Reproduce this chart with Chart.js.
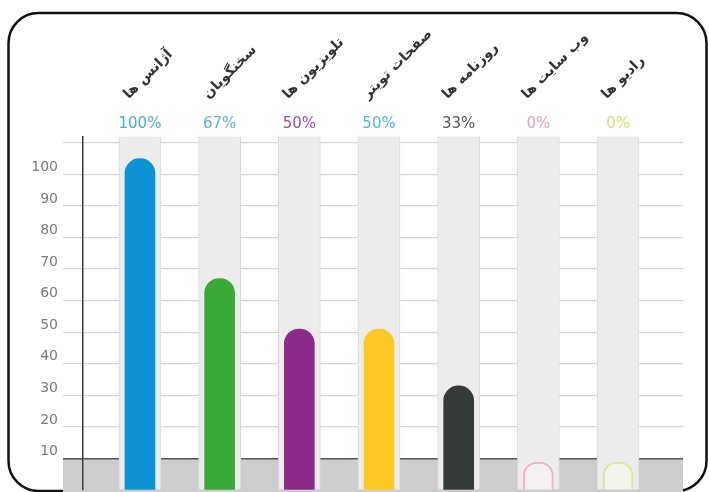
<!DOCTYPE html>
<html lang="fa">
<head>
<meta charset="utf-8">
<title>Sources</title>
<script src="https://cdn.jsdelivr.net/npm/chart.js@4.4.1/dist/chart.umd.min.js"></script>
<style>
  html, body { margin: 0; padding: 0; background: #fff; }
  canvas { display: block; }
</style>
</head>
<body>
<canvas id="chart" width="709" height="492"></canvas>
<script>
// -------------------- Data --------------------
const categories = ["آژانس ها", "سخنگویان", "تلویزیون ها", "صفحات تویتر", "روزنامه ها", "وب سایت ها", "رادیو ها"];
const percentLabels = ["100%", "67%", "50%", "50%", "33%", "0%", "0%"];
// bar heights as read against the left axis
const barValues = [105, 67, 51, 51, 33, 0, 0];
const columnValues = [112, 112, 112, 112, 112, 112, 112];

const barColors = ["#0f93d6", "#3aa935", "#8b2a89", "#fdc824", "#343a38", "#f4eff1", "#f2f3ea"];
const barBorders = ["#0f93d6", "#3aa935", "#8b2a89", "#fdc824", "#343a38", "#f0b2c2", "#dce68c"];
const barBorderWidths = [0, 0, 0, 0, 0, 2, 2];
const labelColors = ["#41aee0", "#5bb3dc", "#a04e9f", "#4fb3e3", "#555555", "#e99db2", "#d3e36c"];

// -------------------- Helpers --------------------
const backdrop = {
  id: "backdrop",
  beforeDraw(chart) {
    const { ctx, chartArea, scales } = chart;
    ctx.save();
    ctx.fillStyle = "#fff";
    ctx.fillRect(0, 0, chart.width, chart.height);

    // rounded frame
    ctx.beginPath();
    ctx.roundRect(8.5, 13, 698, 478, 30);
    ctx.lineWidth = 2.5;
    ctx.strokeStyle = "#111";
    ctx.stroke();

    // grey floor under the 10 line
    const y10 = scales.y.getPixelForValue(10);
    ctx.fillStyle = "#cdcdcd";
    ctx.fillRect(chartArea.left - 20, y10, chartArea.right - chartArea.left + 20, chart.height - y10);
    ctx.restore();
  },
  afterDatasetsDraw(chart) {
    const { ctx, chartArea, scales } = chart;
    ctx.save();
    ctx.font = "15px 'DejaVu Sans'";
    ctx.textAlign = "center";
    ctx.textBaseline = "middle";
    percentLabels.forEach((t, i) => {
      ctx.fillStyle = labelColors[i];
      ctx.fillText(t, scales.x.getPixelForValue(i), chartArea.top - 12);
    });
    ctx.restore();
  }
};

// -------------------- Chart --------------------
new Chart(document.getElementById("chart"), {
  type: "bar",
  data: {
    datasets: [
      {
        data: barValues.map((v, i) => ({ x: i, y: v })),
        backgroundColor: barColors,
        borderColor: barBorders,
        borderWidth: barBorderWidths,
        borderRadius: { topLeft: 15, topRight: 15 },
        borderSkipped: "bottom",
        barThickness: 30,
        minBarLength: 28,
        grouped: false
      },
      {
        data: columnValues.map((v, i) => ({ x: i, y: v })),
        backgroundColor: "#ececec",
        borderColor: "#dadada",
        borderWidth: 1,
        borderSkipped: "bottom",
        barThickness: 42,
        grouped: false
      }
    ]
  },
  options: {
    responsive: false,
    animation: false,
    layout: { padding: { top: 0, right: 26, bottom: 2, left: 0 } },
    plugins: { legend: { display: false }, tooltip: { enabled: false } },
    scales: {
      x: {
        type: "linear",
        position: "top",
        min: -0.715,
        max: 6.815,
        offset: false,
        grid: { display: false, drawTicks: false },
        border: { display: false },
        ticks: {
          stepSize: 1,
          includeBounds: false,
          autoSkip: false,
          minRotation: 45,
          maxRotation: 45,
          padding: 34,
          labelOffset: -2,
          color: "#333",
          font: { family: "DejaVu Sans", size: 14, weight: "bold" },
          callback: v => categories[v] ?? ""
        },
        afterFit: s => { s.height = 136.5; s.paddingLeft = 0; s.paddingRight = 0; }
      },
      y: {
        min: 0,
        max: 112,
        grid: {
          color: c => c.tick.value === 10 ? "#555" : (c.tick.value === 0 ? "rgba(0,0,0,0)" : "#d6d6d6"),
          lineWidth: c => c.tick.value === 10 ? 1.6 : 1.2,
          tickLength: 20
        },
        border: { display: true, color: "#3a3a3a", width: 1.5 },
        ticks: {
          stepSize: 10,
          includeBounds: false,
          padding: 5,
          labelOffset: -7,
          color: "#7a7a7a",
          font: { family: "DejaVu Sans", size: 14 },
          callback: v => (v >= 10 && v <= 100) ? v : ""
        },
        afterFit: s => { s.width = 83; s.paddingTop = 0; s.paddingBottom = 0; }
      }
    }
  },
  plugins: [backdrop]
});
</script>
</body>
</html>
